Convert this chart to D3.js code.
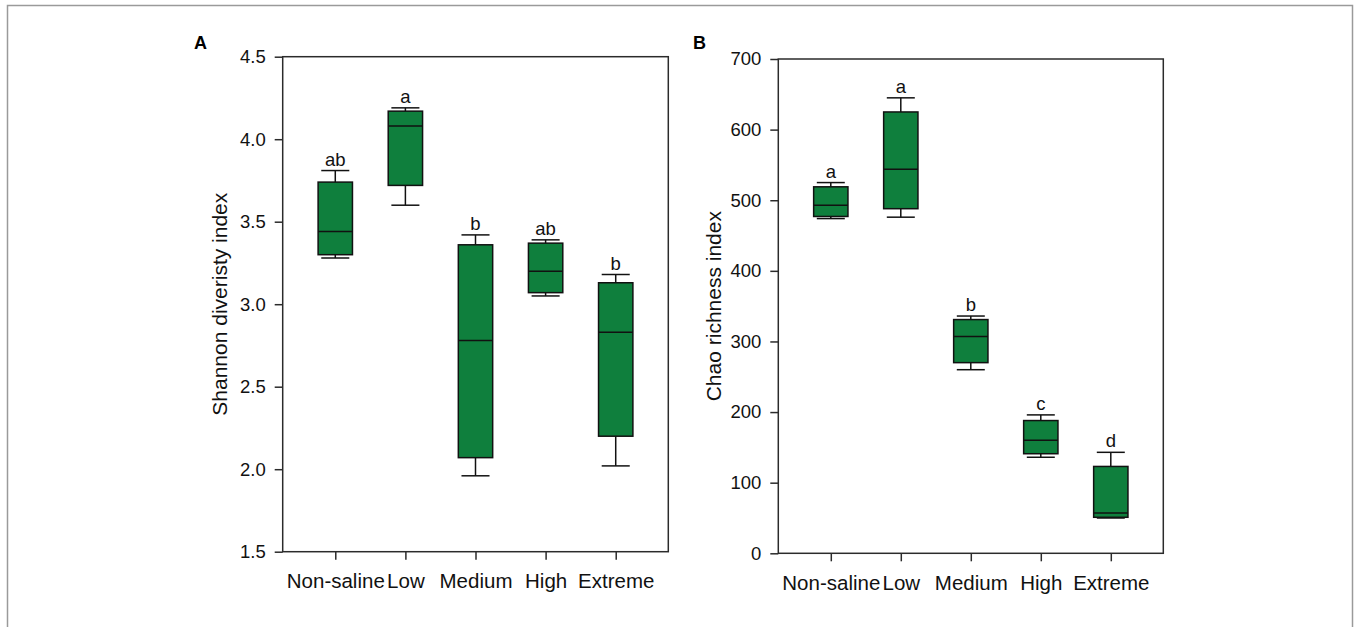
<!DOCTYPE html>
<html>
<head>
<meta charset="utf-8">
<script src="https://cdn.jsdelivr.net/npm/d3@7"></script>
<style>
  body { margin: 0; background: #fff; }
  svg { display: block; font-family: "Liberation Sans", Arial, sans-serif; }
</style>
</head>
<body>
<svg id="chart" width="1356" height="627"></svg>
<script>
// categories
const groups = ["Non-saline", "Low", "Medium", "High", "Extreme"];

// Panel A: Shannon diversity, box-plot summaries
const shannonMin = [3.28, 3.60, 1.96, 3.05, 2.02];
const shannonQ1 = [3.30, 3.72, 2.07, 3.07, 2.20];
const shannonMedian = [3.44, 4.08, 2.78, 3.20, 2.83];
const shannonQ3 = [3.74, 4.17, 3.36, 3.37, 3.13];
const shannonMax = [3.81, 4.19, 3.42, 3.39, 3.18];
const shannonLetters = ["ab", "a", "b", "ab", "b"];
const shannonTicks = [1.5, 2.0, 2.5, 3.0, 3.5, 4.0, 4.5];

// Panel B: Chao richness
const chaoMin = [474, 476, 260, 136, 50];
const chaoQ1 = [477, 488, 270, 141, 51];
const chaoMedian = [493, 544, 307, 160, 57];
const chaoQ3 = [519, 625, 331, 188, 123];
const chaoMax = [525, 645, 336, 196, 143];
const chaoLetters = ["a", "a", "b", "c", "d"];
const chaoTicks = [0, 100, 200, 300, 400, 500, 600, 700];

const svg = d3.select("#chart");
const boxFill = "#0f7f3d";

// outer figure frame
svg.append("rect")
    .attr("x", 7.5).attr("y", 5.5)
    .attr("width", 1345).attr("height", 700)
    .attr("fill", "none")
    .attr("stroke", "#9a9a9a")
    .attr("stroke-width", 1.5);

function drawPanel(p) {
    const x = d3.scaleLinear().domain([0.25, 5.75]).range([p.left, p.right]);
    const y = d3.scaleLinear().domain(p.domain).range([p.bottom, p.top]);
    const g = svg.append("g");

    // frame around the plot
    g.append("rect")
        .attr("x", p.left).attr("y", p.top)
        .attr("width", p.right - p.left).attr("height", p.bottom - p.top)
        .attr("fill", "none")
        .attr("stroke", "#2b2b2b")
        .attr("stroke-width", 1.5);

    // y axis
    const yAxis = g.append("g")
        .attr("transform", `translate(${p.left},0)`)
        .call(d3.axisLeft(y).tickValues(p.ticks).tickFormat(p.fmt).tickSize(8).tickPadding(9));
    yAxis.select(".domain").remove();
    yAxis.selectAll("line").attr("stroke", "#2b2b2b").attr("stroke-width", 1.5);
    yAxis.selectAll("text").attr("font-size", 18.5).attr("fill", "#111")
        .attr("font-family", "Liberation Sans, Arial, sans-serif");

    // x axis
    const xAxis = g.append("g")
        .attr("transform", `translate(0,${p.bottom})`)
        .call(d3.axisBottom(x).tickValues([1, 2, 3, 4, 5]).tickFormat((d) => groups[d - 1]).tickSize(8).tickPadding(14));
    xAxis.select(".domain").remove();
    xAxis.selectAll("line").attr("stroke", "#2b2b2b").attr("stroke-width", 1.5);
    xAxis.selectAll("text").attr("font-size", 20.5).attr("fill", "#111")
        .attr("font-family", "Liberation Sans, Arial, sans-serif");

    const idx = groups.map((d, i) => i);
    const boxHalf = 0.245, capHalf = 0.2;

    // whiskers
    g.selectAll(".whisker-up").data(idx).enter().append("line")
        .attr("x1", (i) => x(i + 1)).attr("x2", (i) => x(i + 1))
        .attr("y1", (i) => y(p.q3[i])).attr("y2", (i) => y(p.max[i]))
        .attr("stroke", "#111").attr("stroke-width", 1.5);
    g.selectAll(".whisker-down").data(idx).enter().append("line")
        .attr("x1", (i) => x(i + 1)).attr("x2", (i) => x(i + 1))
        .attr("y1", (i) => y(p.q1[i])).attr("y2", (i) => y(p.min[i]))
        .attr("stroke", "#111").attr("stroke-width", 1.5);
    [p.max, p.min].forEach((arr) => {
        g.selectAll(null).data(idx).enter().append("line")
            .attr("x1", (i) => x(i + 1 - capHalf)).attr("x2", (i) => x(i + 1 + capHalf))
            .attr("y1", (i) => y(arr[i])).attr("y2", (i) => y(arr[i]))
            .attr("stroke", "#111").attr("stroke-width", 1.5);
    });

    // boxes
    g.selectAll(".box").data(idx).enter().append("rect")
        .attr("x", (i) => x(i + 1 - boxHalf))
        .attr("width", (i) => x(i + 1 + boxHalf) - x(i + 1 - boxHalf))
        .attr("y", (i) => y(p.q3[i]))
        .attr("height", (i) => y(p.q1[i]) - y(p.q3[i]))
        .attr("fill", boxFill)
        .attr("stroke", "#111").attr("stroke-width", 1.5);

    // medians
    g.selectAll(".median").data(idx).enter().append("line")
        .attr("x1", (i) => x(i + 1 - boxHalf)).attr("x2", (i) => x(i + 1 + boxHalf))
        .attr("y1", (i) => y(p.median[i])).attr("y2", (i) => y(p.median[i]))
        .attr("stroke", "#111").attr("stroke-width", 1.5);

    // significance letters
    g.selectAll(".letter").data(idx).enter().append("text")
        .attr("x", (i) => x(i + 1))
        .attr("y", (i) => y(p.max[i]) - 5)
        .attr("text-anchor", "middle")
        .attr("font-size", 18.5).attr("fill", "#111")
        .text((i) => p.letters[i]);

    // y title
    g.append("text")
        .attr("transform", `translate(${p.titleX},${(p.top + p.bottom) / 2}) rotate(-90)`)
        .attr("text-anchor", "middle")
        .attr("font-size", 21).attr("fill", "#111")
        .text(p.title);

    // panel letter
    g.append("text")
        .attr("x", p.tagX).attr("y", 49)
        .attr("font-size", 18).attr("font-weight", "bold").attr("fill", "#000")
        .text(p.tag);
}

drawPanel({
    left: 282.7, right: 668.3, top: 56.7, bottom: 551.7,
    domain: [1.5, 4.5], ticks: shannonTicks, fmt: d3.format(".1f"),
    min: shannonMin, q1: shannonQ1, median: shannonMedian, q3: shannonQ3, max: shannonMax,
    letters: shannonLetters,
    title: "Shannon diveristy index", titleX: 227, tag: "A", tagX: 194
});

drawPanel({
    left: 778.3, right: 1163.3, top: 59, bottom: 553.3,
    domain: [0, 700], ticks: chaoTicks, fmt: d3.format("d"),
    min: chaoMin, q1: chaoQ1, median: chaoMedian, q3: chaoQ3, max: chaoMax,
    letters: chaoLetters,
    title: "Chao richness index", titleX: 721, tag: "B", tagX: 693
});
</script>
</body>
</html>
